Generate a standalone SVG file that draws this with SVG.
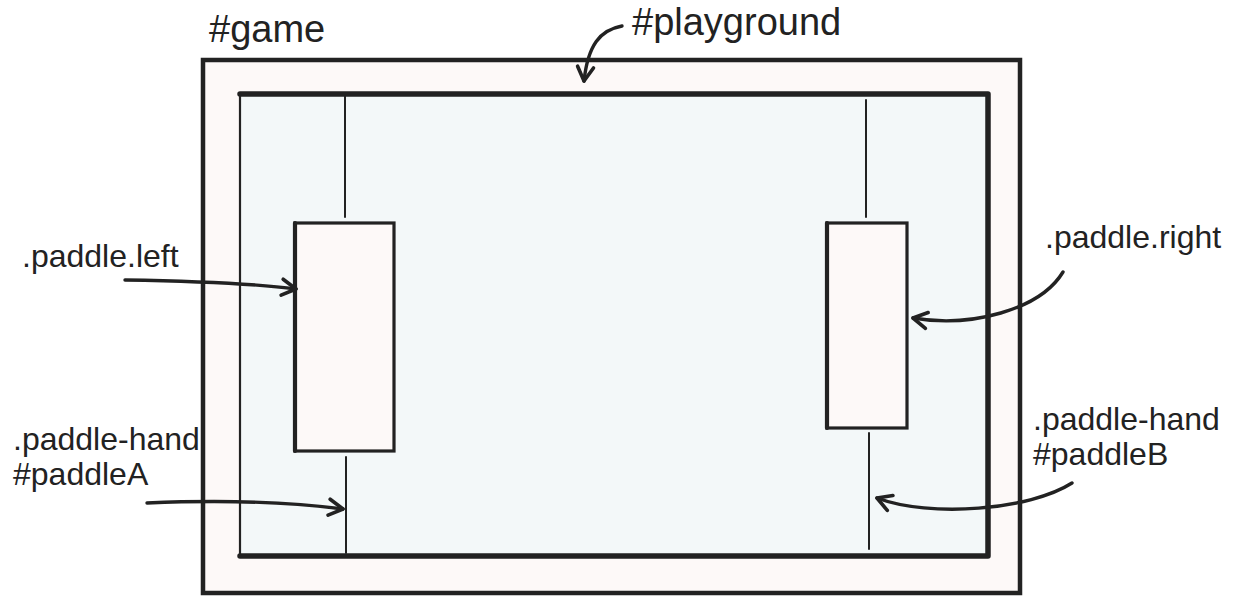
<svg xmlns="http://www.w3.org/2000/svg" width="1233" height="596" viewBox="0 0 1233 596">
<style>
.lbl{font-family:"Liberation Sans",Arial,sans-serif;fill:#222}
.big{font-size:38px}
.sm{font-size:32px}
.edge{fill:none;stroke:#222;stroke-linecap:round;stroke-linejoin:round}
.arr{fill:none;stroke:#222;stroke-width:3.4;stroke-linecap:round;marker-end:url(#ah)}
</style>
<defs>
<marker id="ah" viewBox="0 0 24 24" refX="19" refY="12" markerWidth="24" markerHeight="24" markerUnits="userSpaceOnUse" orient="auto">
<path d="M5,4 L19,12 L5,20" fill="none" stroke="#222" stroke-width="3.6" stroke-linecap="round" stroke-linejoin="round"/>
</marker>
</defs>
<rect width="1233" height="596" fill="#ffffff"/>
<g id="game">
<rect x="203" y="60" width="817" height="533" fill="#fdf9f8" stroke="#222" stroke-width="4.5"/>
<text class="lbl big" x="209" y="42">#game</text>
</g>
<g id="playground">
<rect x="240" y="94" width="748" height="462" fill="#f3f8f9"/>
<path class="edge" d="M240,94 L988,94 L988,556 L240,556" stroke-width="5.5"/>
<path class="edge" d="M240,94 L240,556" stroke-width="2.2"/>
<text class="lbl big" x="632" y="35">#playground</text>
</g>
<g id="paddleA">
<line class="edge" x1="345" y1="95" x2="345" y2="217" stroke-width="2"/>
<line class="edge" x1="346" y1="457" x2="346" y2="553" stroke-width="2"/>
</g>
<g id="paddle-left">
<rect x="295" y="223" width="99" height="228" fill="#fdf9f8" stroke="#222" stroke-width="3.2"/>
<line class="edge" x1="295" y1="223" x2="295" y2="451" stroke-width="4.2"/>
</g>
<g id="paddleB">
<line class="edge" x1="866" y1="100" x2="866" y2="217" stroke-width="2"/>
<line class="edge" x1="869" y1="433" x2="869" y2="549" stroke-width="2"/>
</g>
<g id="paddle-right">
<rect x="827" y="223" width="80" height="205" fill="#fdf9f8" stroke="#222" stroke-width="3.2"/>
<line class="edge" x1="827" y1="223" x2="827" y2="428" stroke-width="4.2"/>
</g>
<g id="labels">
<text class="lbl sm" x="22" y="267">.paddle.left</text>
<text class="lbl sm" x="13" y="450">.paddle-hand</text>
<text class="lbl sm" x="13" y="485">#paddleA</text>
<text class="lbl sm" x="1045" y="248">.paddle.right</text>
<text class="lbl sm" x="1033" y="430">.paddle-hand</text>
<text class="lbl sm" x="1033" y="465">#paddleB</text>
</g>
<g id="connectors">
<path class="arr" d="M622,26 C600,30 588,45 584,81"/>
<path class="arr" d="M125,280 C190,281 250,283 296,289"/>
<path class="arr" d="M147,503 C220,500 290,502 343,509"/>
<path class="arr" d="M1063,272 C1040,310 970,328 913,318"/>
<path class="arr" d="M1072,483 C1030,510 930,518 877,498"/>
</g>
</svg>
